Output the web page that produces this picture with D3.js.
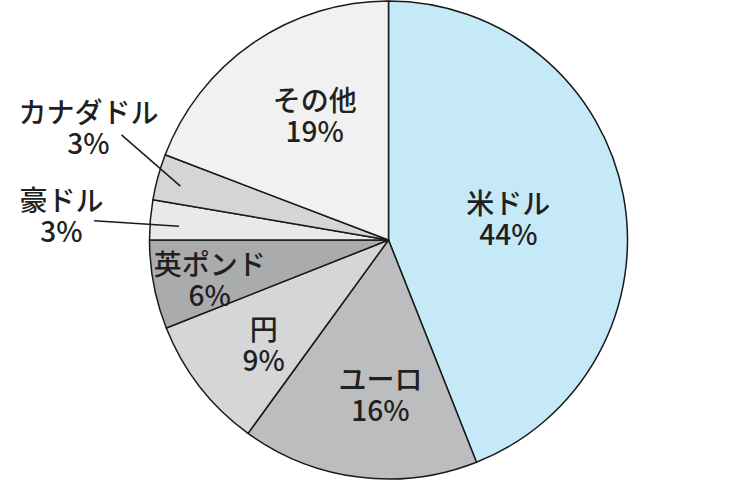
<!DOCTYPE html>
<html>
<head>
<meta charset="utf-8">
<script src="https://cdn.jsdelivr.net/npm/d3@7"></script>
<style>
  html, body { margin: 0; padding: 0; background: #fff; }
  svg text { font-family: "Noto Sans CJK JP", "Noto Sans", sans-serif; font-weight: 500; fill: #231f20; }
</style>
</head>
<body>
<div id="chart"></div>
<script>
// Donnees
var devises = ["米ドル", "ユーロ", "円", "英ポンド", "豪ドル", "カナダドル", "その他"];
var parts = [44, 16, 9, 6, 2.7, 3.1, 19.2];
var etiquettes = ["44%", "16%", "9%", "6%", "3%", "3%", "19%"];
var couleurs = ["#c6e9f8", "#bcbdbf", "#d5d6d7", "#a9abad", "#e9e9ea", "#d4d5d6", "#f1f1f2"];

// Placement des etiquettes : rayon et decalage d'angle (degres) par rapport au milieu de la part
var placement = [
    { r: 122, da: 0 },
    { r: 154, da: -4.2 },
    { r: 162, da: -1.8 },
    { r: 183, da: -1.5 },
    { r: 328, da: -0.4, ligne: [[295, -1.1], [210, -1.1]] },
    { r: 321, da: 5.5, ligne: [[287, 6.2], [215, -0.8]] },
    { r: 146, da: 4.2 }
];

var largeur = 750, hauteur = 488;
var cx = 388.5, cy = 240, rayon = 239;
var interligne = 31;

var svg = d3.select("#chart").append("svg")
    .attr("width", largeur)
    .attr("height", hauteur);

var g = svg.append("g").attr("transform", "translate(" + cx + "," + cy + ")");

var donnees = devises.map(function (d, i) { return { nom: d, valeur: parts[i], texte: etiquettes[i], i: i }; });

var pie = d3.pie().sort(null).value(function (d) { return d.valeur; });
var arc = d3.arc().innerRadius(0).outerRadius(rayon);
var arcs = pie(donnees);

// Parts
g.selectAll("path.part").data(arcs).enter().append("path")
    .attr("class", "part")
    .attr("d", arc)
    .attr("fill", function (d) { return couleurs[d.data.i]; })
    .attr("stroke", "#1a1a1a")
    .attr("stroke-width", 1.5)
    .attr("stroke-linejoin", "round");

// Utilitaire polaire (angle d3 : 0 en haut, sens horaire)
function polaire (angle, r) {
    return [r * Math.sin(angle), -r * Math.cos(angle)];
}
function milieu (d) { return (d.startAngle + d.endAngle) / 2; }
var rad = Math.PI / 180;

// Lignes de rappel
arcs.forEach(function (d) {
    var p = placement[d.data.i];
    if (!p.ligne) return;
    var a = polaire(milieu(d) + p.ligne[0][1] * rad, p.ligne[0][0]);
    var b = polaire(milieu(d) + p.ligne[1][1] * rad, p.ligne[1][0]);
    g.append("line")
        .attr("x1", a[0]).attr("y1", a[1])
        .attr("x2", b[0]).attr("y2", b[1])
        .attr("stroke", "#1a1a1a")
        .attr("stroke-width", 1.5);
});

// Etiquettes (un seul texte, deux lignes)
var textes = g.selectAll("text.etiquette").data(arcs).enter().append("text")
    .attr("class", "etiquette")
    .attr("text-anchor", "middle")
    .attr("font-size", 28)
    .attr("transform", function (d) {
        var p = placement[d.data.i];
        var pos = polaire(milieu(d) + p.da * rad, p.r);
        return "translate(" + pos[0] + "," + pos[1] + ")";
    });

textes.append("tspan")
    .attr("x", 0)
    .attr("y", -interligne / 2)
    .attr("dominant-baseline", "central")
    .text(function (d) { return d.data.nom; });

textes.append("tspan")
    .attr("x", 0)
    .attr("y", interligne / 2)
    .attr("dominant-baseline", "central")
    .text(function (d) { return d.data.texte; });
</script>
</body>
</html>
